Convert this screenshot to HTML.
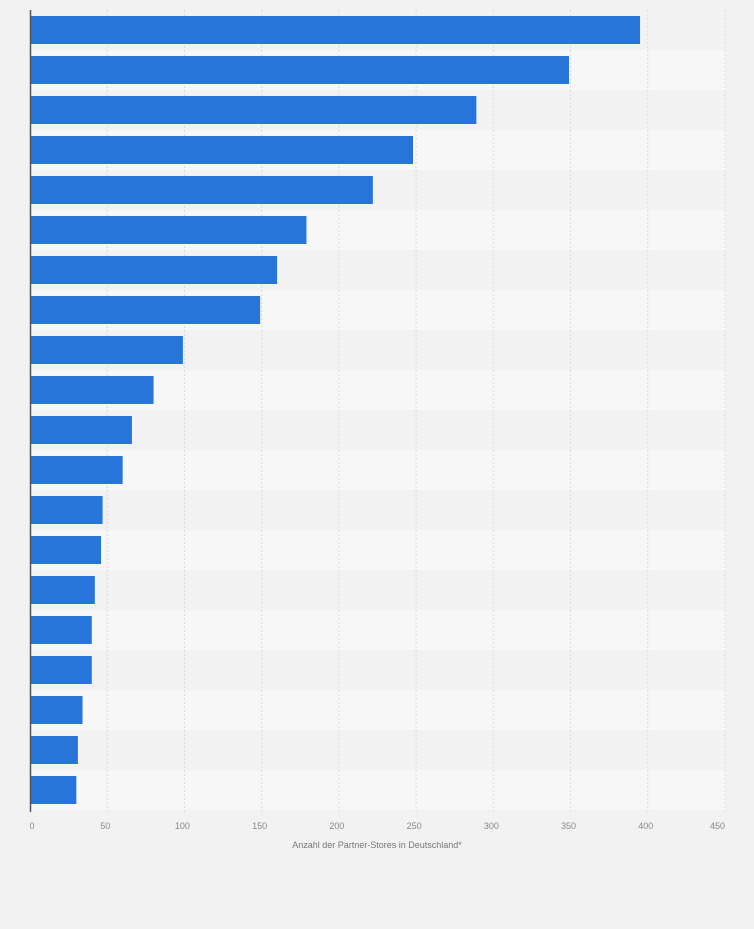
<!DOCTYPE html>
<html><head><meta charset="utf-8"><style>
body{margin:0;background:#f2f2f2;font-family:"Liberation Sans",sans-serif}
svg{display:block}
</style></head><body>
<svg id="chart" width="754" height="929" xmlns="http://www.w3.org/2000/svg">
<rect width="754" height="929" fill="#f2f2f2"/>
<g id="bands"></g><g id="grid"></g><g id="bars"></g><g id="ticks"></g>
<line x1="30.5" y1="10" x2="30.5" y2="812" stroke="#555" stroke-width="1.5"/>
<text x="377" y="848" font-size="9" fill="#777" text-anchor="middle">Anzahl der Partner-Stores in Deutschland*</text>
</svg>
<script>
const categories=["r1","r2","r3","r4","r5","r6","r7","r8","r9","r10","r11","r12","r13","r14","r15","r16","r17","r18","r19","r20"];
const values=[395,349,289,248,222,179,160,149,99,80,66,60,47,46,42,40,40,34,31,30];
const tickValues=[0,50,100,150,200,250,300,350,400,450];
const NS="http://www.w3.org/2000/svg";
const x0=30,x1=725,yTop=10,rowH=40,maxV=450;
const xs=v=>x0+v*(x1-x0)/maxV;
const ys=i=>yTop+i*rowH;
function mk(t,a,p){const e=document.createElementNS(NS,t);for(const k in a)e.setAttribute(k,a[k]);document.getElementById(p).appendChild(e);return e;}
categories.forEach((c,i)=>{
  if(i%2===1){const b=mk("rect",{x:x0,y:ys(i),width:x1-x0+1,height:rowH,fill:"#f7f7f7"},"bands");
  
  }
});
tickValues.forEach((t,k)=>{
  if(t>0){const g=mk("line",{x1:xs(t),x2:xs(t),y1:yTop,y2:812,stroke:"#dcdcdc","stroke-dasharray":"2,2"},"grid");
  
  }
  const last=k===tickValues.length-1;
  const tx=mk("text",{x:t===0?xs(t)+2:(last?xs(t):xs(t)-2),y:829,"font-size":"9",fill:"#888","text-anchor":last?"end":"middle"},"ticks");
  tx.textContent=t;
  
  
});
values.forEach((v,i)=>{
  const r=mk("rect",{x:x0,y:ys(i)+6,width:xs(v)-x0,height:28,fill:"#2775db"},"bars");
  
  
});
</script>
</body></html>
